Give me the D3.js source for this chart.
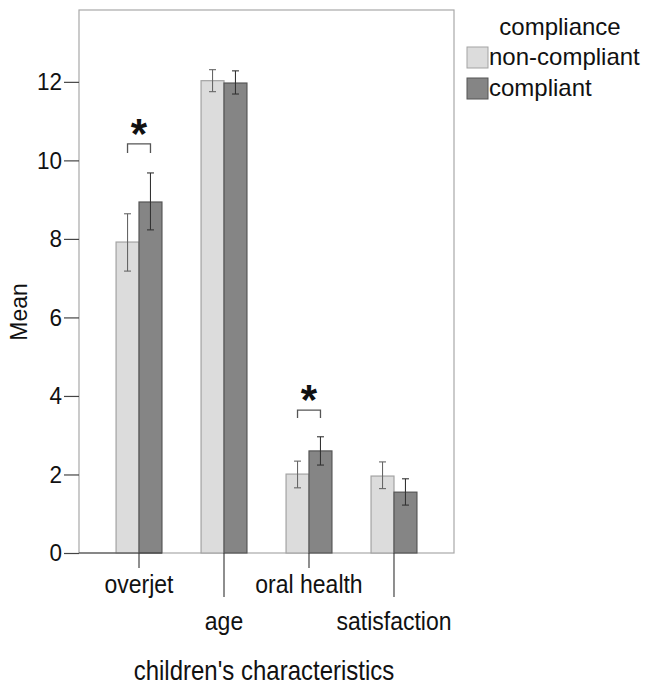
<!DOCTYPE html>
<meta charset="utf-8">
<script src="https://d3js.org/d3.v7.min.js"></script>
<style>
  body { margin: 0; background: #fff; }
  text { font-family: "Liberation Sans", Arial, sans-serif; fill: #111; }
</style>
<body>
<div id="chart"></div>
<script>

var categories = ["overjet", "age", "oral health", "satisfaction"];
var seriesNames = ["non-compliant", "compliant"];

var nonCompliantMean = [7.92, 12.03, 2.01, 1.96];
var nonCompliantLow  = [7.18, 11.75, 1.66, 1.64];
var nonCompliantHigh = [8.64, 12.31, 2.34, 2.32];

var compliantMean = [8.94, 11.97, 2.60, 1.55];
var compliantLow  = [8.23, 11.69, 2.24, 1.22];
var compliantHigh = [9.68, 12.28, 2.96, 1.89];

var yTicks = [0, 2, 4, 6, 8, 10, 12];

// significance brackets: category, bracket top value, leg end value
var sigCategory = ["overjet", "oral health"];
var sigTop = [10.42, 3.64];
var sigLeg = [10.19, 3.44];

var width = 647, height = 687;
var plot = {left: 79, right: 454, top: 10, bottom: 553};

var svg = d3.select("#chart")
  .append("svg")
    .attr("width", width)
    .attr("height", height);

var y = d3.scaleLinear()
  .domain([0, 13.83])
  .range([plot.bottom, plot.top]);

var x = d3.scaleBand()
  .domain(categories)
  .range([plot.left, plot.right])
  .paddingInner(0.46)
  .paddingOuter(0.436);

var xs = d3.scaleBand()
  .domain(seriesNames)
  .range([0, x.bandwidth()]);

var fills = {"non-compliant": "#dcdcdc", "compliant": "#858585"};
var strokes = {"non-compliant": "#a3a3a3", "compliant": "#555"};
var whisk = {"non-compliant": "#666", "compliant": "#333"};

var rows = [];
categories.forEach(function(c, i) {
  rows.push({cat: c, s: "non-compliant", m: nonCompliantMean[i], lo: nonCompliantLow[i], hi: nonCompliantHigh[i]});
  rows.push({cat: c, s: "compliant", m: compliantMean[i], lo: compliantLow[i], hi: compliantHigh[i]});
});

// the source text is a bit taller than plain Arial, stretch it a little
function tallText(sel, px, py, sy) {
  return sel.attr("transform", "translate(" + px + "," + py + ") scale(1," + sy + ")");
}

// frame
svg.append("rect")
  .attr("x", plot.left)
  .attr("y", plot.top)
  .attr("width", plot.right - plot.left)
  .attr("height", plot.bottom - plot.top)
  .attr("fill", "none")
  .attr("stroke", "#a8a8a8")
  .attr("stroke-width", 1.2);

// y axis ticks + labels
var yAxis = svg.append("g")
  .attr("transform", "translate(" + plot.left + ",0)")
  .call(d3.axisLeft(y).tickValues(yTicks).tickSize(15).tickPadding(2).tickFormat(d3.format("d")));
yAxis.select(".domain").remove();
yAxis.selectAll(".tick line").attr("stroke", "#444").attr("stroke-width", 1.2);
yAxis.selectAll(".tick text")
  .attr("font-size", "22.5px")
  .attr("fill", "#111")
  .attr("font-family", "Liberation Sans, Arial, sans-serif")
  .attr("transform", "scale(1,1.08)");

// bars
svg.append("g")
  .selectAll("rect")
  .data(rows)
  .enter()
  .append("rect")
    .attr("x", function(d) { return x(d.cat) + xs(d.s); })
    .attr("y", function(d) { return y(d.m); })
    .attr("width", xs.bandwidth())
    .attr("height", function(d) { return y(0) - y(d.m); })
    .attr("fill", function(d) { return fills[d.s]; })
    .attr("stroke", function(d) { return strokes[d.s]; })
    .attr("stroke-width", 1.2);

// dark stretch of baseline under first group, as in the source
svg.append("line")
  .attr("x1", plot.left).attr("x2", x(categories[0]) + x.bandwidth())
  .attr("y1", y(0)).attr("y2", y(0))
  .attr("stroke", "#444").attr("stroke-width", 1.2);

// error bars
var eb = svg.append("g")
  .selectAll("g")
  .data(rows)
  .enter()
  .append("g")
    .attr("stroke", function(d) { return whisk[d.s]; })
    .attr("stroke-width", 1.1);
function cx(d) { return x(d.cat) + xs(d.s) + xs.bandwidth() / 2; }
eb.append("line")
  .attr("x1", cx).attr("x2", cx)
  .attr("y1", function(d) { return y(d.lo); })
  .attr("y2", function(d) { return y(d.hi); });
eb.append("line")
  .attr("x1", function(d) { return cx(d) - 3.5; }).attr("x2", function(d) { return cx(d) + 3.5; })
  .attr("y1", function(d) { return y(d.lo); })
  .attr("y2", function(d) { return y(d.lo); });
eb.append("line")
  .attr("x1", function(d) { return cx(d) - 3.5; }).attr("x2", function(d) { return cx(d) + 3.5; })
  .attr("y1", function(d) { return y(d.hi); })
  .attr("y2", function(d) { return y(d.hi); });

// significance brackets
sigCategory.forEach(function(c, i) {
  var x1 = x(c) + xs("non-compliant") + xs.bandwidth() / 2;
  var x2 = x(c) + xs("compliant") + xs.bandwidth() / 2;
  svg.append("path")
    .attr("d", "M" + x1 + "," + y(sigLeg[i]) + "V" + y(sigTop[i]) + "H" + x2 + "V" + y(sigLeg[i]))
    .attr("fill", "none")
    .attr("stroke", "#555")
    .attr("stroke-width", 1.3);
  svg.append("text")
    .attr("x", (x1 + x2) / 2)
    .attr("y", y(sigTop[i]) + 4)
    .attr("text-anchor", "middle")
    .attr("font-size", "42px")
    .attr("font-weight", "bold")
    .text("*");
});

// category ticks and labels
var catG = svg.append("g")
  .selectAll("g")
  .data(categories)
  .enter()
  .append("g")
    .attr("transform", function(d) { return "translate(" + (x(d) + x.bandwidth() / 2) + "," + plot.bottom + ")"; });
catG.append("line")
  .attr("y1", 0)
  .attr("y2", function(d, i) { return i % 2 == 0 ? 15 : 44; })
  .attr("stroke", "#444")
  .attr("stroke-width", 1.2);
catG.append("text")
  .each(function(d, i) { tallText(d3.select(this), 0, i % 2 == 0 ? 40 : 77, 1.1); })
  .attr("text-anchor", "middle")
  .attr("font-size", "23px")
  .text(function(d) { return d; });

// axis titles
tallText(svg.append("text"), 264, 680, 1.15)
  .attr("text-anchor", "middle")
  .attr("font-size", "24px")
  .text("children's characteristics");

svg.append("text")
  .attr("transform", "translate(27,312) rotate(-90)")
  .attr("text-anchor", "middle")
  .attr("font-size", "23px")
  .text("Mean");

// legend
var legend = svg.append("g");
legend.append("text")
  .attr("x", 560)
  .attr("y", 35)
  .attr("text-anchor", "middle")
  .attr("font-size", "24px")
  .text("compliance");
var li = legend.selectAll("g.item")
  .data(seriesNames)
  .enter()
  .append("g")
    .attr("transform", function(d, i) { return "translate(467," + (47 + i * 31) + ")"; });
li.append("rect")
  .attr("width", 21)
  .attr("height", 21)
  .attr("fill", function(d) { return fills[d]; })
  .attr("stroke", function(d) { return strokes[d]; });
li.append("text")
  .attr("x", 22)
  .attr("y", 18)
  .attr("font-size", "24px")
  .text(function(d) { return d; });

</script>
</body>
